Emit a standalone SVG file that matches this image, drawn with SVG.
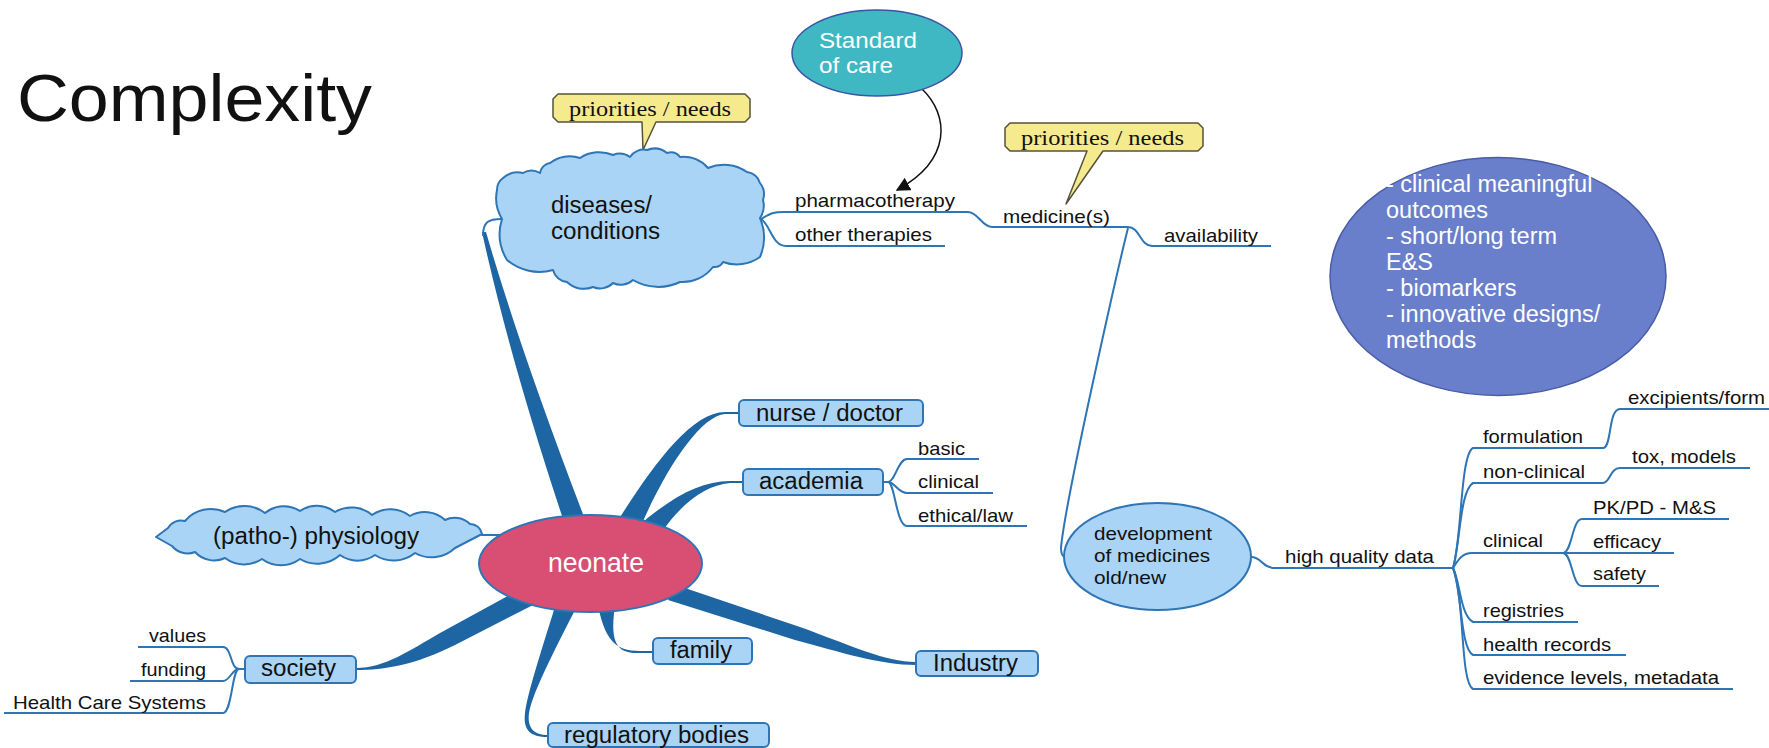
<svg xmlns="http://www.w3.org/2000/svg" width="1769" height="748" viewBox="0 0 1769 748">
<style>
text{font-family:"Liberation Sans",Arial,sans-serif;fill:#111}
.t19{font-size:19px}
.t23{font-size:23px}
.ser{font-family:"Liberation Serif","Times New Roman",serif;font-size:22px}
.wht{fill:#fff}
.box{fill:#A9D4F5;stroke:#2E75B6;stroke-width:2}
.cloud{fill:#A9D4F5;stroke:#2E75B6;stroke-width:2;stroke-linejoin:round}
.thin{fill:none;stroke:#2E75B6;stroke-width:2}
.thick{fill:#1D66A3;stroke:none}
.call{fill:#F6EA8F;stroke:#55533A;stroke-width:1.5;stroke-linejoin:round}
</style>
<defs>
<marker id="ah" viewBox="0 0 10 10" refX="9" refY="5" markerWidth="14" markerHeight="14" markerUnits="userSpaceOnUse" orient="auto">
<path d="M0,0 L10,5 L0,10 Z" fill="#111"/>
</marker>
</defs>
<rect width="1769" height="748" fill="#fff"/>

<text id="title" x="17" y="121" font-size="66" textLength="355" lengthAdjust="spacingAndGlyphs">Complexity</text>

<g id="connectors">
<path class="thick" d="M482,232 Q510,360 565,525 L586,522 Q520,350 486,232 Z"/>
<path class="thin" d="M502,219 C488,219 483,222 483,236"/>
<path class="thick" d="M615,525 C650,470 690,412 725,412 L739,412 L739,414 L725,414 C700,416 665,470 640,528 Z"/>
<path class="thick" d="M636,528 C670,498 700,481 730,481 L743,481 L743,483 L730,483 C705,485 680,505 662,532 Z"/>
<path class="thick" d="M676,585 L800,627 C850,645 885,662 916,662 L916,665 C880,665 840,652 795,640 L668,600 Z"/>
<path class="thick" d="M597,600 C604,640 615,651 640,651 L653,651 L653,653 L640,653 C618,654 608,645 616,600 Z"/>
<path class="thick" d="M557,600 C545,640 528,690 525,713 C523,730 530,737 548,737 L548,735 C534,735 527,728 529,713 C533,690 560,640 580,600 Z"/>
<path class="thick" d="M356,668 C385,668 410,650 440,633 L515,592 L535,604 L455,645 C415,665 385,670 356,670 Z"/>
<path class="thin" d="M481,535 L505,535"/>
<path class="thin" d="M761,219 C770,214 772,212 784,212 L968,212 C978,212 982,227 992,227 L1128,227"/>
<path class="thin" d="M761,219 C770,224 772,246 786,246 L945,246"/>
<path class="thin" d="M1128,227 C1140,227 1140,246 1152,246 L1271,246"/>
<path class="thin" d="M1128,228 C1120,260 1065,500 1061,548 Q1061,556 1065,557"/>
<path class="thin" d="M1251,557 C1262,557 1262,568 1275,568 L1453,568"/>
<path class="thin" d="M1453,568 C1462,540 1460,455 1473,448 L1603,448"/>
<path class="thin" d="M1453,568 C1460,545 1460,490 1473,483 L1603,483"/>
<path class="thin" d="M1453,568 C1458,560 1462,553 1472,553 L1563,553"/>
<path class="thin" d="M1453,568 C1460,580 1460,615 1473,622 L1578,622"/>
<path class="thin" d="M1453,568 C1462,590 1460,648 1473,655 L1626,655"/>
<path class="thin" d="M1453,568 C1465,600 1460,682 1473,689 L1733,689"/>
<path class="thin" d="M1603,448 C1612,448 1608,409 1620,409 L1769,409"/>
<path class="thin" d="M1603,483 C1610,483 1610,468 1620,468 L1750,468"/>
<path class="thin" d="M1563,553 C1572,553 1572,519 1582,519 L1729,519"/>
<path class="thin" d="M1563,553 L1674,553"/>
<path class="thin" d="M1563,553 C1572,553 1572,586 1582,586 L1659,586"/>
<path class="thin" d="M883,482 L888,482 C895,482 898,459 907,459 L979,459"/>
<path class="thin" d="M888,482 C895,482 898,493 907,493 L993,493"/>
<path class="thin" d="M888,482 C895,482 896,526 907,526 L1027,526"/>
<path class="thin" d="M245,669 L239,669 C230,669 232,647 223,647 L138,647"/>
<path class="thin" d="M239,669 C232,669 230,681 223,681 L130,681"/>
<path class="thin" d="M239,669 C232,669 232,713 223,713 L4,713"/>
<path d="M921,88 C950,115 952,160 897,190" fill="none" stroke="#111" stroke-width="1.5" marker-end="url(#ah)"/>
</g>

<g id="standard-of-care">
<ellipse cx="877" cy="53" rx="85" ry="43" fill="#40B8C4" stroke="#3A55A5" stroke-width="1.5"/>
<text class="wht" x="819" y="48" font-size="22" textLength="98" lengthAdjust="spacingAndGlyphs">Standard</text>
<text class="wht" x="819" y="73" font-size="22" textLength="74" lengthAdjust="spacingAndGlyphs">of care</text>
</g>

<g id="callout-diseases">
<path class="call" d="M558,94 L745,94 L750,99 L750,117 L745,122 L656,122 L643,150 L642,122 L558,122 L553,117 L553,99 Z"/>
<text class="ser" x="569" y="116" textLength="162" lengthAdjust="spacingAndGlyphs">priorities / needs</text>
</g>

<g id="callout-medicines">
<path class="call" d="M1010,123 L1198,123 L1203,128 L1203,146 L1198,151 L1103,151 L1066,204 L1087,151 L1010,151 L1005,146 L1005,128 Z"/>
<text class="ser" x="1021" y="145" textLength="163" lengthAdjust="spacingAndGlyphs">priorities / needs</text>
</g>

<g id="diseases">
<path class="cloud" d="M502,219 A40 40 0 0 1 497,190 A15 15 0 0 1 503,178 A22 22 0 0 1 523,173 A17 17 0 0 1 540,173 A12 12 0 0 1 550,163 A32 32 0 0 1 580,158 A35 35 0 0 1 613,155 A18 18 0 0 1 630,157 A16 16 0 0 1 647,150 A20 20 0 0 1 667,153 A12 12 0 0 1 680,157 A32 32 0 0 1 708,168 A40 40 0 0 1 747,172 A15 15 0 0 1 760,183 A18 18 0 0 1 763,200 A22 22 0 0 1 760,218 A50 50 0 0 1 760,257 A40 40 0 0 1 723,262 A10 10 0 0 1 713,267 A38 38 0 0 1 680,282 A50 50 0 0 1 633,280 A18 18 0 0 1 613,283 A18 18 0 0 1 593,287 A24 24 0 0 1 567,282 A16 16 0 0 1 553,270 A50 50 0 0 1 507,260 A50 50 0 0 1 502,219 Z"/>
<text class="t23" x="551" y="213" textLength="101" lengthAdjust="spacingAndGlyphs">diseases/</text>
<text class="t23" x="551" y="239" textLength="109" lengthAdjust="spacingAndGlyphs">conditions</text>
</g>

<g id="physiology">
<path class="cloud" d="M156,537 L168,528 A15 15 0 0 1 185,521 A34 34 0 0 1 225,512 A34 34 0 0 1 265,513 A30 30 0 0 1 300,511 A30 30 0 0 1 335,512 A32 32 0 0 1 372,515 A32 32 0 0 1 410,516 A30 30 0 0 1 445,520 A22 22 0 0 1 470,524 A12 12 0 0 1 482,534 L455,548 A34 34 0 0 1 415,553 A34 34 0 0 1 375,555 A30 30 0 0 1 340,555 A34 34 0 0 1 300,559 A32 32 0 0 1 262,559 A32 32 0 0 1 225,558 A26 26 0 0 1 195,552 A20 20 0 0 1 172,546 L156,537 Z"/>
<text class="t23" x="213" y="544" textLength="206" lengthAdjust="spacingAndGlyphs">(patho-) physiology</text>
</g>

<g id="neonate">
<ellipse cx="590.5" cy="563.5" rx="111.5" ry="48.5" fill="#D94F73" stroke="#2E75B6" stroke-width="2"/>
<text class="wht" x="548" y="572" font-size="28" textLength="96" lengthAdjust="spacingAndGlyphs">neonate</text>
</g>

<g id="nurse-doctor">
<rect class="box" x="739" y="400" width="184" height="26" rx="5"/>
<text class="t23" x="756" y="421" textLength="147" lengthAdjust="spacingAndGlyphs">nurse / doctor</text>
</g>

<g id="academia">
<rect class="box" x="743" y="469" width="140" height="26" rx="5"/>
<text class="t23" x="759" y="489" textLength="104" lengthAdjust="spacingAndGlyphs">academia</text>
</g>
<g id="basic"><text class="t19" x="918" y="455" textLength="47" lengthAdjust="spacingAndGlyphs">basic</text></g>
<g id="academia-clinical"><text class="t19" x="918" y="488" textLength="61" lengthAdjust="spacingAndGlyphs">clinical</text></g>
<g id="ethical-law"><text class="t19" x="918" y="522" textLength="95" lengthAdjust="spacingAndGlyphs">ethical/law</text></g>

<g id="family">
<rect class="box" x="653" y="638" width="99" height="26" rx="5"/>
<text class="t23" x="670" y="658" textLength="62" lengthAdjust="spacingAndGlyphs">family</text>
</g>

<g id="industry">
<rect class="box" x="916" y="651" width="122" height="25" rx="5"/>
<text class="t23" x="933" y="671" textLength="85" lengthAdjust="spacingAndGlyphs">Industry</text>
</g>

<g id="regulatory-bodies">
<rect class="box" x="548" y="723" width="221" height="24" rx="5"/>
<text class="t23" x="564" y="743" textLength="185" lengthAdjust="spacingAndGlyphs">regulatory bodies</text>
</g>

<g id="society">
<rect class="box" x="245" y="656" width="111" height="27" rx="5"/>
<text class="t23" x="261" y="676" textLength="75" lengthAdjust="spacingAndGlyphs">society</text>
</g>
<g id="values"><text class="t19" x="149" y="642" textLength="57" lengthAdjust="spacingAndGlyphs">values</text></g>
<g id="funding"><text class="t19" x="141" y="676" textLength="65" lengthAdjust="spacingAndGlyphs">funding</text></g>
<g id="health-care-systems"><text class="t19" x="13" y="709" textLength="193" lengthAdjust="spacingAndGlyphs">Health Care Systems</text></g>

<g id="pharmacotherapy"><text class="t19" x="795" y="207" textLength="160" lengthAdjust="spacingAndGlyphs">pharmacotherapy</text></g>
<g id="other-therapies"><text class="t19" x="795" y="241" textLength="137" lengthAdjust="spacingAndGlyphs">other therapies</text></g>
<g id="medicines"><text class="t19" x="1003" y="223" textLength="107" lengthAdjust="spacingAndGlyphs">medicine(s)</text></g>
<g id="availability"><text class="t19" x="1164" y="242" textLength="94" lengthAdjust="spacingAndGlyphs">availability</text></g>

<g id="outcomes">
<ellipse cx="1498" cy="276.5" rx="168" ry="119" fill="#6A7FCB" stroke="#4A5CA8" stroke-width="1.5"/>
<text class="wht" font-size="23.5">
<tspan x="1386" y="192">- clinical meaningful</tspan>
<tspan x="1386" y="218">outcomes</tspan>
<tspan x="1386" y="244">- short/long term</tspan>
<tspan x="1386" y="270">E&amp;S</tspan>
<tspan x="1386" y="296">- biomarkers</tspan>
<tspan x="1386" y="322">- innovative designs/</tspan>
<tspan x="1386" y="348">methods</tspan>
</text>
</g>

<g id="development">
<ellipse cx="1157.5" cy="556.5" rx="93.5" ry="53.5" fill="#A9D4F5" stroke="#2E75B6" stroke-width="2"/>
<text class="t19" x="1094" y="540" textLength="118" lengthAdjust="spacingAndGlyphs">development</text>
<text class="t19" x="1094" y="562" textLength="116" lengthAdjust="spacingAndGlyphs">of medicines</text>
<text class="t19" x="1094" y="584" textLength="72" lengthAdjust="spacingAndGlyphs">old/new</text>
</g>

<g id="high-quality-data"><text class="t19" x="1285" y="563" textLength="149" lengthAdjust="spacingAndGlyphs">high quality data</text></g>
<g id="formulation"><text class="t19" x="1483" y="443" textLength="100" lengthAdjust="spacingAndGlyphs">formulation</text></g>
<g id="excipients-form"><text class="t19" x="1628" y="404" textLength="137" lengthAdjust="spacingAndGlyphs">excipients/form</text></g>
<g id="non-clinical"><text class="t19" x="1483" y="478" textLength="102" lengthAdjust="spacingAndGlyphs">non-clinical</text></g>
<g id="tox-models"><text class="t19" x="1632" y="463" textLength="104" lengthAdjust="spacingAndGlyphs">tox, models</text></g>
<g id="clinical"><text class="t19" x="1483" y="547" textLength="60" lengthAdjust="spacingAndGlyphs">clinical</text></g>
<g id="pkpd"><text class="t19" x="1593" y="514" textLength="123" lengthAdjust="spacingAndGlyphs">PK/PD - M&amp;S</text></g>
<g id="efficacy"><text class="t19" x="1593" y="548" textLength="68" lengthAdjust="spacingAndGlyphs">efficacy</text></g>
<g id="safety"><text class="t19" x="1593" y="580" textLength="53" lengthAdjust="spacingAndGlyphs">safety</text></g>
<g id="registries"><text class="t19" x="1483" y="617" textLength="81" lengthAdjust="spacingAndGlyphs">registries</text></g>
<g id="health-records"><text class="t19" x="1483" y="651" textLength="128" lengthAdjust="spacingAndGlyphs">health records</text></g>
<g id="evidence-levels"><text class="t19" x="1483" y="684" textLength="236" lengthAdjust="spacingAndGlyphs">evidence levels, metadata</text></g>
</svg>
